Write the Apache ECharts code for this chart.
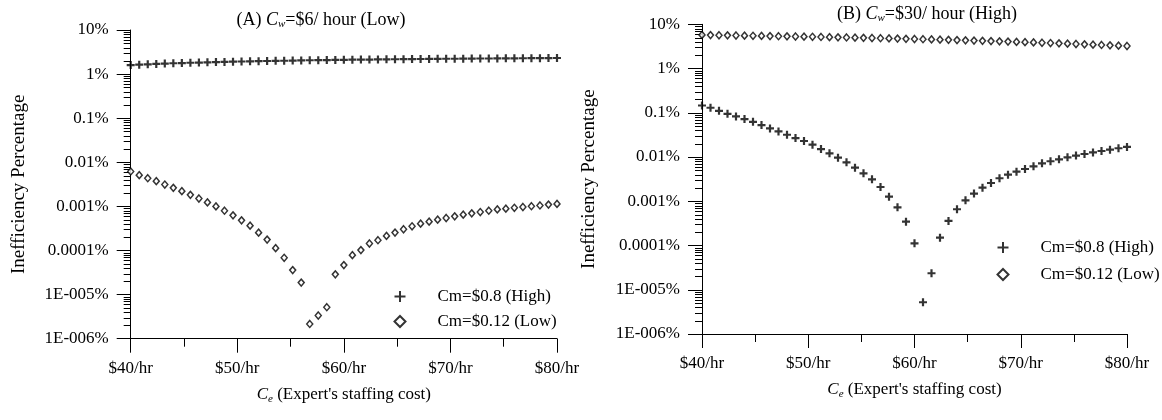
<!DOCTYPE html>
<html><head><meta charset="utf-8">
<script src="https://cdn.jsdelivr.net/npm/echarts@6/dist/echarts.min.js"></script>
<style>html,body{margin:0;padding:0;background:#fff}#c{width:1162px;height:420px}</style>
</head><body><div id="c"></div>
<script>
// ---------- data ----------
const xValues = [40,40.8,41.6,42.4,43.2,44,44.8,45.6,46.4,47.2,48,48.8,49.6,50.4,51.2,52,52.8,53.6,54.4,55.2,56,56.8,57.6,58.4,59.2,60,60.8,61.6,62.4,63.2,64,64.8,65.6,66.4,67.2,68,68.8,69.6,70.4,71.2,72,72.8,73.6,74.4,75.2,76,76.8,77.6,78.4,79.2,80];
// Panel A (Cw=$6/hour), values in %
const aHigh = [1.60,1.64,1.67,1.70,1.73,1.76,1.78,1.81,1.83,1.85,1.87,1.89,1.91,1.93,1.95,1.96,1.98,2.00,2.01,2.03,2.04,2.06,2.07,2.08,2.10,2.11,2.12,2.13,2.14,2.15,2.16,2.17,2.18,2.19,2.20,2.21,2.22,2.23,2.23,2.24,2.25,2.26,2.26,2.27,2.28,2.28,2.29,2.30,2.30,2.31,2.32];
const aLow = [0.0062,0.0051,0.00436,0.00373,0.00313,0.00264,0.00222,0.00183,0.00151,0.00123,0.00100,0.000798,0.000626,0.000483,0.000366,0.000254,0.000177,0.000113,0.0000684,0.0000360,0.0000187,0.00000216,0.00000336,0.00000518,0.0000288,0.0000467,0.0000785,0.000102,0.000144,0.000171,0.000214,0.000255,0.000303,0.000354,0.000406,0.000451,0.000500,0.000546,0.000595,0.000649,0.000695,0.000745,0.000798,0.000855,0.00089,0.00093,0.00097,0.00101,0.00105,0.00110,0.00114];
// Panel B (Cw=$30/hour), values in %
const bHigh = [0.146,0.130,0.111,0.0949,0.0826,0.0719,0.0626,0.0527,0.0443,0.0380,0.0319,0.0268,0.0230,0.0190,0.0151,0.0121,0.00966,0.00759,0.00574,0.00428,0.00313,0.00210,0.00127,0.000731,0.000346,0.000112,0.00000522,0.0000236,0.000150,0.000359,0.00066,0.00105,0.00149,0.00203,0.00259,0.00331,0.00399,0.00467,0.00537,0.00618,0.00722,0.00802,0.00889,0.00987,0.0108,0.0117,0.0127,0.0137,0.0147,0.0158,0.0169];
const bLow = [5.75,5.70,5.66,5.62,5.58,5.54,5.50,5.46,5.42,5.38,5.34,5.30,5.26,5.22,5.17,5.13,5.08,5.04,4.99,4.95,4.90,4.85,4.80,4.75,4.70,4.65,4.60,4.55,4.50,4.45,4.40,4.34,4.29,4.23,4.18,4.12,4.06,4.00,3.95,3.89,3.83,3.77,3.71,3.65,3.59,3.53,3.47,3.41,3.35,3.29,3.23];
const seriesNames = ['Cm=$0.8 (High)', 'Cm=$0.12 (Low)'];
const xTickLabels = ['$40/hr','$50/hr','$60/hr','$70/hr','$80/hr'];
const yTickLabels = ['1E-006%','1E-005%','0.0001%','0.001%','0.01%','0.1%','1%','10%'];
const decades = [0.000001,0.00001,0.0001,0.001,0.01,0.1,1];
const minorMult = [2,3,4,5,6,7,8,9];

// ---------- chart ----------
const FONT = 'Liberation Serif';
const FS = 17;
const PLUS = 'path://M5,0L5,10M0,5L10,5';
const minorVals = [];
decades.forEach(d => minorMult.forEach(m => minorVals.push(m * d)));

function richStyles(size) {
  return {
    n: {fontFamily: FONT, fontSize: size, color: '#000', fontWeight: 'normal'},
    i: {fontFamily: FONT, fontSize: size, color: '#000', fontStyle: 'italic', fontWeight: 'normal'},
    s: {fontFamily: FONT, fontSize: 11, color: '#000', fontStyle: 'italic', fontWeight: 'normal', padding: [9, 0, 0, 0]}
  };
}
function xAxisCfg(gi) {
  return {
    type: 'value', gridIndex: gi, min: 40, max: 80, interval: 10,
    axisLine: {lineStyle: {color: '#000', width: 1}},
    axisTick: {length: 14, lineStyle: {color: '#000'}},
    minorTick: {show: true, splitNumber: 2, length: 8, lineStyle: {color: '#000'}},
    splitLine: {show: false},
    axisLabel: {margin: 21, color: '#000', fontFamily: FONT, fontSize: FS,
      formatter: v => xTickLabels[Math.round((v - 40) / 10)]},
    name: '{i|C}{s|e}{n| (Expert\'s staffing cost)}',
    nameLocation: 'middle', nameGap: 46,
    nameTextStyle: {rich: richStyles(FS)}
  };
}
function yAxisCfg(gi, gap) {
  return {
    type: 'log', logBase: 10, gridIndex: gi, min: 0.000001, max: 10,
    axisLine: {show: true, lineStyle: {color: '#000', width: 1}},
    axisTick: {show: true, length: 14, lineStyle: {color: '#000'}},
    splitLine: {show: false},
    axisLabel: {margin: 22, color: '#000', fontFamily: FONT, fontSize: FS,
      formatter: v => yTickLabels[Math.round(Math.log10(v)) + 6]},
    name: 'Inefficiency Percentage', nameLocation: 'middle', nameGap: gap,
    nameTextStyle: {fontFamily: FONT, fontSize: 19, color: '#000'}
  };
}
function minorTickSeries(gi) {
  return {
    type: 'custom', xAxisIndex: gi, yAxisIndex: gi, silent: true, z: 1,
    data: minorVals.map(v => [40, v]),
    renderItem: (params, api) => {
      const p = api.coord([api.value(0), api.value(1)]);
      const y = Math.round(p[1]) + 0.5;
      return {type: 'line', shape: {x1: p[0] - 7, y1: y, x2: p[0], y2: y},
        style: {stroke: '#000', lineWidth: 1}};
    }
  };
}
function plusSeries(gi, vals) {
  return {type: 'scatter', name: seriesNames[0], xAxisIndex: gi, yAxisIndex: gi,
    data: xValues.map((x, i) => [x, vals[i]]), symbol: PLUS, symbolSize: 8,
    itemStyle: {color: 'none', borderColor: '#000', borderWidth: 2.2}, z: 3};
}
function diamondSeries(gi, vals) {
  return {type: 'scatter', name: seriesNames[1], xAxisIndex: gi, yAxisIndex: gi,
    data: xValues.map((x, i) => [x, vals[i]]), symbol: 'diamond', symbolSize: [6, 7],
    itemStyle: {color: '#fff', borderColor: '#000', borderWidth: 1.5}, z: 3};
}
function legendCfg(left, top, gap) {
  return {
    data: seriesNames, orient: 'vertical', left: left, top: top, padding: 0,
    itemWidth: 11, itemHeight: 11, itemGap: gap, selectedMode: false,
    textStyle: {fontFamily: FONT, fontSize: FS, color: '#000', lineHeight: 16, padding: [0, 0, 0, 27]}
  };
}
function titleCfg(letter, rest, cx, top) {
  return {
    text: '{n|(' + letter + ') }{i|C}{s|w}{n|' + rest + '}',
    left: cx, top: top, textAlign: 'center', padding: 0,
    textStyle: {fontWeight: 'normal', rich: richStyles(18)}
  };
}

const chart = echarts.init(document.getElementById('c'), null, {renderer: 'canvas'});
chart.setOption({
  animation: false,
  backgroundColor: '#fff',
  title: [titleCfg('A', '=$6/ hour (Low)', 321, 10), titleCfg('B', '=$30/ hour (High)', 927, 4)],
  legend: [legendCfg(392, 288, 8), legendCfg(995, 239, 10)],
  grid: [
    {left: 130.7, top: 30, width: 426.3, height: 308.7},
    {left: 702, top: 24.3, width: 425, height: 309.7}
  ],
  xAxis: [xAxisCfg(0), xAxisCfg(1)],
  yAxis: [yAxisCfg(0, 102), yAxisCfg(1, 103)],
  series: [
    minorTickSeries(0), minorTickSeries(1),
    plusSeries(0, aHigh), diamondSeries(0, aLow),
    plusSeries(1, bHigh), diamondSeries(1, bLow)
  ]
});
</script></body></html>
